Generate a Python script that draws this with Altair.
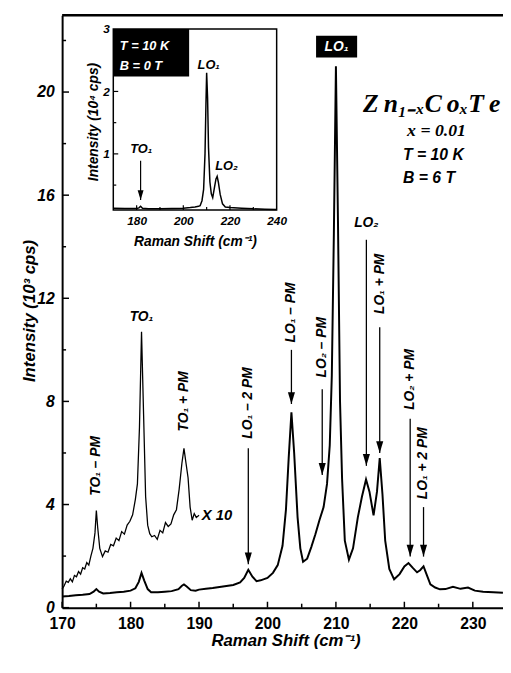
import altair as alt
import pandas as pd

# ---------------- data ----------------
main_shift = [170, 171, 172, 173, 174, 174.6, 175.0, 175.4, 176, 177, 178, 179, 180, 180.7, 181.2,
              181.6, 182.0, 182.5, 183, 184, 185, 186, 187, 187.5, 187.8, 188.2, 188.8, 189.5, 190,
              191, 192, 193, 194, 195, 196, 196.6, 197.2, 197.8, 198.4, 199, 200, 200.8, 201.5, 202.2,
              202.7, 203.1, 203.5, 203.9, 204.4, 204.8, 205.2, 205.8, 206.4, 207, 207.6, 208.2, 208.7,
              209.1, 209.4, 209.7, 210.0, 210.3, 210.6, 210.9, 211.3, 211.9, 212.5, 213.2, 213.8, 214.4,
              214.9, 215.5, 216.0, 216.4, 216.8, 217.2, 217.8, 218.5, 219.3, 220.0, 220.6, 221.2, 221.85,
              222.3, 222.8, 223.3, 223.8, 224.5, 225.2, 226, 227.1, 228.2, 229.3, 230.3, 231.5, 233, 234.4]
main_int = [0.43, 0.45, 0.48, 0.50, 0.53, 0.62, 0.72, 0.62, 0.55, 0.57, 0.60, 0.62, 0.66, 0.75, 1.0,
            1.35, 1.05, 0.72, 0.60, 0.60, 0.62, 0.64, 0.72, 0.85, 0.90, 0.82, 0.68, 0.66, 0.70,
            0.73, 0.76, 0.80, 0.84, 0.88, 0.98, 1.15, 1.47, 1.2, 1.03, 1.06, 1.15, 1.35, 1.65, 2.4,
            3.8, 5.8, 7.58, 6.0, 3.5, 2.3, 1.78, 1.9, 2.35, 2.85, 3.4, 3.9, 4.8,
            6.3, 9.0, 14.5, 21.0, 15.0, 8.0, 5.0, 2.6, 1.86, 2.3, 3.5, 4.3, 4.97,
            4.5, 3.58, 4.5, 5.8, 4.4, 2.6, 1.5, 1.1, 1.3, 1.6, 1.73, 1.55, 1.37,
            1.45, 1.6, 1.25, 0.9, 0.78, 0.71, 0.72, 0.81, 0.73, 0.78, 0.66, 0.62, 0.6, 0.58]

x10_shift = [170.0, 170.3, 170.6, 170.9, 171.2, 171.5, 171.8, 172.1, 172.4, 172.7,
             173.0, 173.3, 173.6, 173.9, 174.2, 174.5, 174.8, 175.0, 175.2, 175.5,
             175.9, 176.3, 176.7, 177.1, 177.5, 177.9, 178.3, 178.7, 179.1, 179.5,
             179.9, 180.3, 180.7, 181.0, 181.3, 181.6, 181.9, 182.2, 182.5, 182.8,
             183.1, 183.5, 183.9, 184.3, 184.7, 185.1, 185.5, 185.9, 186.3, 186.7,
             187.1, 187.5, 187.8, 188.1, 188.4, 188.7, 189.0, 189.3, 189.6, 190.0]
x10_int = [0.72, 0.85, 1.03, 0.98, 1.12, 1.0, 1.25, 1.2, 1.4, 1.3,
           1.55, 1.5, 1.75, 1.65, 2.0, 2.3, 2.9, 3.77, 3.1, 2.3,
           1.98, 2.2, 2.15, 2.45, 2.4, 2.7, 2.6, 2.95, 2.85, 3.2,
           3.35, 3.6, 4.2, 4.8, 7.0, 10.7, 7.5, 4.3, 3.2, 2.87,
           2.75, 2.8, 2.65, 3.0, 2.9, 3.3, 3.15, 3.25, 3.6, 3.8,
           4.6, 5.6, 6.18, 5.6, 5.04, 3.9, 3.39, 3.65, 3.5, 3.58]

inset_shift = [170, 175, 180, 181, 181.7, 182.5, 185, 190, 195, 200, 203, 205, 206.5, 207.2, 208.0,
               208.7, 209.3, 209.7, 210.0, 210.4, 210.8, 211.4, 212.0, 212.6, 213.3, 214.0, 214.5,
               215.0, 215.8, 216.8, 218, 220, 225, 230, 235, 240]
inset_int = [0.13, 0.125, 0.125, 0.135, 0.16, 0.13, 0.12, 0.12, 0.125, 0.13, 0.14, 0.15, 0.16, 0.17, 0.25,
             0.43, 1.0, 1.8, 2.30, 1.9, 1.1, 0.55, 0.36, 0.30, 0.45, 0.6, 0.64,
             0.55, 0.35, 0.2, 0.15, 0.14, 0.13, 0.12, 0.115, 0.11]

x_ticks_major = [170, 180, 190, 200, 210, 220, 230]
x_ticks_minor = [175, 185, 195, 205, 215, 225]
y_ticks_major = [0, 4, 8, 12, 16, 20]
y_ticks_minor = [2, 6, 10, 14, 18, 22]
inset_x_labels = [180, 200, 220, 240]
inset_x_major = [180, 200, 220]
inset_x_minor = [190, 210, 230]
inset_y_labels = [1, 2, 3]
inset_y_major = [1, 2]
inset_y_minor = [0.5, 1.5, 2.5]

# annotations (main plot)
arrow_labels = ["LO₁ – 2 PM", "LO₁ – PM", "LO₂ – PM", "LO₁ + PM", "LO₂ + PM", "LO₁ + 2 PM"]
arrow_shift = [197.2, 203.5, 208.0, 216.4, 220.85, 222.8]
arrow_text_y = [7.94, 11.45, 10.1, 12.56, 8.85, 5.6]
arrow_start = [6.18, 10.0, 8.47, 10.88, 7.33, 3.9]
arrow_tip = [1.68, 7.9, 5.15, 6.0, 1.98, 1.98]

rot_labels = ["TO₁ – PM", "TO₁ + PM"]
rot_shift = [175.0, 187.83]
rot_y = [5.5, 8.0]

lo2_label = ["LO₂"]
lo2_shift = [214.45]
lo2_text_y = [14.9]
lo2_start = [14.27]
lo2_tip = [5.5]

flat_labels = ["TO₁"]
flat_shift = [181.6]
flat_y = [11.26]
x10_label = ["X 10"]
x10_label_shift = [190.4]
x10_label_y = [3.59]

lo1_box = {"x": [207.1], "x2": [213.1], "y": [21.34], "y2": [22.18]}
lo1_text = {"x": [210.1], "y": [21.76], "label": ["LO₁"]}

formula = ["Z\u2009n₁₋ₓC\u2009oₓT\u2009e"]
formula_pos = [224.0, 19.54]
cond_x = ["x = 0.01"]
cond_x_pos = [220.4, 18.47]
cond_tb = ["T = 10 K", "B = 6 T"]
cond_tb_shift = [219.8, 219.8]
cond_tb_y = [17.56, 16.68]

# inset annotations
inset_peak_labels = ["LO₁", "LO₂", "TO₁"]
inset_peak_shift = [210.9, 218.5, 182.0]
inset_peak_y = [2.43, 0.81, 1.07]
inset_arrow = {"x": [181.7], "y": [0.89], "y2": [0.26]}
inset_box = {"x": [170], "x2": [202.5], "y": [2.24], "y2": [3.0]}
inset_box_text = ["T = 10 K", "B = 0 T"]
inset_box_text_x = [172.8, 172.8]
inset_box_text_y = [2.72, 2.40]
inset_frame = {"x": [170], "x2": [240], "y": [0.1], "y2": [3.0]}

# ---------------- layout ----------------
W, H = 448, 602
FONT = "Liberation Sans"
SERIF = "Liberation Serif"

xs = alt.Scale(domain=[170, 234.41], nice=False, zero=False)
ys = alt.Scale(domain=[0, 22.98], nice=False, zero=False)
ixs = alt.Scale(domain=[170, 240], range=[52, 218], nice=False, zero=False)
iys = alt.Scale(domain=[0.1, 3.0], range=[198, 14], nice=False, zero=False)

common_axis = dict(ticks=False, grid=False, labelColor="black", titleColor="black",
                   labelFont=FONT, titleFont=FONT, labelFontWeight="bold",
                   titleFontWeight="bold", titleFontStyle="italic", labelOverlap=False,
                   labelFlush=False, titleBaseline="middle")

x_axis = alt.Axis(values=x_ticks_major, format="d", title="Raman Shift (cm⁻¹)",
                  domain=True, domainColor="black", domainWidth=2,
                  labelFontSize=16, labelPadding=8, titleFontSize=17,
                  titleX=227, titleY=33, **common_axis)
y_axis = alt.Axis(values=y_ticks_major, format="d", title="Intensity (10³ cps)",
                  domain=True, domainColor="black", domainWidth=2,
                  labelFontSize=16, labelFontStyle="italic", labelPadding=8, titleFontSize=17,
                  titleX=-33, titleY=300, titleAngle=270, **common_axis)
ix_axis = alt.Axis(values=inset_x_labels, format="d", title="Raman Shift (cm⁻¹)",
                   orient="bottom", offset=-404, domain=False,
                   labelFontSize=12, labelFontStyle="italic", labelPadding=6, titleFontSize=14,
                   titleX=135, titleY=32, **common_axis)
iy_axis = alt.Axis(values=inset_y_labels, format="d", title="Intensity (10⁴ cps)",
                   orient="left", offset=-52, domain=False,
                   labelFontSize=12, labelFontStyle="italic", labelPadding=4, titleFontSize=14,
                   titleX=-20, titleY=108, titleAngle=270, **common_axis)


def MX(f="x"):
    return alt.X(f"{f}:Q", scale=xs, axis=x_axis)


def MY(f="y"):
    return alt.Y(f"{f}:Q", scale=ys, axis=y_axis)


def IX(f="x"):
    return alt.X(f"{f}:Q", scale=ixs, axis=ix_axis)


def IY(f="y"):
    return alt.Y(f"{f}:Q", scale=iys, axis=iy_axis)


txt = dict(font=FONT, fontWeight="bold", fontStyle="italic", color="black")
head_shape = "M-0.3,-1L0.3,-1L0,0Z"

# ---------------- main layers ----------------
dummy = pd.DataFrame({"a": [0]})
top_line = alt.Chart(dummy).mark_rule(color="black", strokeWidth=2.5).encode(
    x=alt.value(0), x2=alt.value(W), y=alt.value(0))

xt_maj = alt.Chart(pd.DataFrame({"x": x_ticks_major})).mark_rule(color="black", strokeWidth=1.5).encode(
    x=MX(), y=alt.value(H), y2=alt.value(H - 6))
xt_min = alt.Chart(pd.DataFrame({"x": x_ticks_minor})).mark_rule(color="black", strokeWidth=1.5).encode(
    x=MX(), y=alt.value(H), y2=alt.value(H - 4))
yt_maj = alt.Chart(pd.DataFrame({"y": y_ticks_major})).mark_rule(color="black", strokeWidth=1.5).encode(
    y=MY(), x=alt.value(0), x2=alt.value(7))
yt_min = alt.Chart(pd.DataFrame({"y": y_ticks_minor})).mark_rule(color="black", strokeWidth=1.5).encode(
    y=MY(), x=alt.value(0), x2=alt.value(4))

x10_line = alt.Chart(pd.DataFrame({"x": x10_shift, "y": x10_int})).mark_line(
    color="black", strokeWidth=1.3).encode(x=MX(), y=MY())
main_line = alt.Chart(pd.DataFrame({"x": main_shift, "y": main_int})).mark_line(
    color="black", strokeWidth=2).encode(x=MX(), y=MY())

arrows_df = pd.DataFrame({"x": arrow_shift + lo2_shift, "y": arrow_start + lo2_start,
                          "y2": arrow_tip + lo2_tip})
arrows = alt.Chart(arrows_df).mark_rule(color="black", strokeWidth=1.3).encode(
    x=MX(), y=MY(), y2=alt.Y2("y2:Q"))
heads = alt.Chart(arrows_df).mark_point(shape=head_shape, size=576, filled=True, color="black",
                                        opacity=1).encode(x=MX(), y=MY("y2"))

rot_df = pd.DataFrame({"x": arrow_shift + rot_shift, "y": arrow_text_y + rot_y,
                       "label": arrow_labels + rot_labels})
rot_text = alt.Chart(rot_df).mark_text(angle=270, align="center", baseline="middle",
                                       fontSize=14, **txt).encode(x=MX(), y=MY(), text="label:N")

flat_df = pd.DataFrame({"x": flat_shift + lo2_shift, "y": flat_y + lo2_text_y,
                        "label": flat_labels + lo2_label})
flat_text = alt.Chart(flat_df).mark_text(align="center", baseline="middle", fontSize=14, **txt).encode(
    x=MX(), y=MY(), text="label:N")
x10_text = alt.Chart(pd.DataFrame({"x": x10_label_shift, "y": x10_label_y, "label": x10_label})).mark_text(
    align="left", baseline="middle", fontSize=15, **txt).encode(x=MX(), y=MY(), text="label:N")

box = alt.Chart(pd.DataFrame(lo1_box)).mark_rect(color="black").encode(
    x=MX(), x2=alt.X2("x2:Q"), y=MY(), y2=alt.Y2("y2:Q"))
box_text = alt.Chart(pd.DataFrame(lo1_text)).mark_text(
    align="center", baseline="middle", fontSize=14, font=FONT, fontWeight="bold",
    fontStyle="italic", color="white").encode(x=MX(), y=MY(), text="label:N")

formula_text = alt.Chart(pd.DataFrame({"x": [formula_pos[0]], "y": [formula_pos[1]], "label": formula})).mark_text(
    align="center", baseline="middle", fontSize=26, font=SERIF, fontWeight="bold",
    fontStyle="italic", color="black").encode(x=MX(), y=MY(), text="label:N")
condx_text = alt.Chart(pd.DataFrame({"x": [cond_x_pos[0]], "y": [cond_x_pos[1]], "label": cond_x})).mark_text(
    align="left", baseline="middle", fontSize=18, font=SERIF, fontWeight="bold",
    fontStyle="italic", color="black").encode(x=MX(), y=MY(), text="label:N")
condtb_text = alt.Chart(pd.DataFrame({"x": cond_tb_shift, "y": cond_tb_y, "label": cond_tb})).mark_text(
    align="left", baseline="middle", fontSize=16, **txt).encode(x=MX(), y=MY(), text="label:N")

main = alt.layer(top_line, xt_maj, xt_min, yt_maj, yt_min, x10_line, main_line, arrows, heads,
                 rot_text, flat_text, x10_text, box, box_text, formula_text, condx_text, condtb_text)

# ---------------- inset layers ----------------
frame = alt.Chart(pd.DataFrame(inset_frame)).mark_rect(fill=None, stroke="black", strokeWidth=1.5).encode(
    x=IX(), x2=alt.X2("x2:Q"), y=IY(), y2=alt.Y2("y2:Q"))
ixt_maj = alt.Chart(pd.DataFrame({"x": inset_x_major, "y": [0.1] * 3})).mark_rule(
    color="black", strokeWidth=1.2, y2Offset=-5).encode(x=IX(), y=IY(), y2=alt.Y2("y:Q"))
ixt_min = alt.Chart(pd.DataFrame({"x": inset_x_minor, "y": [0.1] * 3})).mark_rule(
    color="black", strokeWidth=1.2, y2Offset=-3).encode(x=IX(), y=IY(), y2=alt.Y2("y:Q"))
iyt_maj = alt.Chart(pd.DataFrame({"y": inset_y_major, "x": [170] * 2})).mark_rule(
    color="black", strokeWidth=1.2, x2Offset=5).encode(y=IY(), x=IX(), x2=alt.X2("x:Q"))
iyt_min = alt.Chart(pd.DataFrame({"y": inset_y_minor, "x": [170] * 3})).mark_rule(
    color="black", strokeWidth=1.2, x2Offset=3).encode(y=IY(), x=IX(), x2=alt.X2("x:Q"))
inset_line = alt.Chart(pd.DataFrame({"x": inset_shift, "y": inset_int})).mark_line(
    color="black", strokeWidth=1.5).encode(x=IX(), y=IY())
ibox = alt.Chart(pd.DataFrame(inset_box)).mark_rect(color="black").encode(
    x=IX(), x2=alt.X2("x2:Q"), y=IY(), y2=alt.Y2("y2:Q"))
ibox_text = alt.Chart(pd.DataFrame({"x": inset_box_text_x, "y": inset_box_text_y,
                                    "label": inset_box_text})).mark_text(
    align="left", baseline="middle", fontSize=13, font=FONT, fontWeight="bold",
    fontStyle="italic", color="white").encode(x=IX(), y=IY(), text="label:N")
ipeak_text = alt.Chart(pd.DataFrame({"x": inset_peak_shift, "y": inset_peak_y,
                                     "label": inset_peak_labels})).mark_text(
    align="center", baseline="middle", fontSize=13, **txt).encode(x=IX(), y=IY(), text="label:N")
iarrow = alt.Chart(pd.DataFrame(inset_arrow)).mark_rule(color="black", strokeWidth=1.2).encode(
    x=IX(), y=IY(), y2=alt.Y2("y2:Q"))
ihead = alt.Chart(pd.DataFrame(inset_arrow)).mark_point(shape=head_shape, size=400, filled=True,
                                                        color="black", opacity=1).encode(x=IX(), y=IY("y2"))

inset = alt.layer(frame, ixt_maj, ixt_min, iyt_maj, iyt_min, inset_line, ibox, ibox_text,
                  ipeak_text, iarrow, ihead)

chart = alt.layer(main, inset).resolve_scale(x="independent", y="independent").properties(
    width=W, height=H,
    padding={"left": 55, "top": 2, "right": 0, "bottom": 57},
    autosize=alt.AutoSizeParams(type="none"),
).configure_view(stroke=None).configure(background="white")

chart.save("out.html", embed_options={"renderer": "svg", "actions": False})
